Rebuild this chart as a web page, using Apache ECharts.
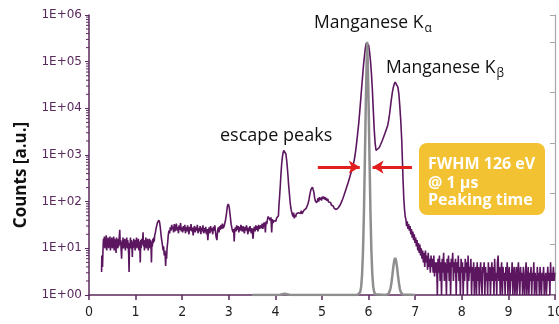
<!DOCTYPE html>
<html>
<head>
<meta charset="utf-8">
<script src="https://cdn.jsdelivr.net/npm/echarts@6/dist/echarts.min.js"></script>
<style>html,body{margin:0;padding:0;background:#fff}#c{width:559px;height:324px}</style>
</head>
<body>
<div id="c"></div>
<script>
// ---- data (energy in keV, counts) ----
const xTickLabels = ['0','1','2','3','4','5','6','7','8','9','10'];
const yTickLabels = ['1E+00','1E+01','1E+02','1E+03','1E+04','1E+05','1E+06'];
const minorTickMultipliers = [2,3,4,5,6,7,8,9];
const decades = [1,10,100,1000,10000,100000];

const lowRegion = [[0.27,3.1],[0.275,7],[0.285,5],[0.29,4],[0.30,9],[0.31,16],[0.32,11],[0.33,18],[0.34,10],[0.35,15],[0.36,12],[0.37,19],[0.38,9],[0.39,14],[0.40,11],[0.41,17],[0.42,10],[0.43,16],[0.44,12],[0.45,18],[0.46,9],[0.47,15],[0.48,11],[0.49,17],[0.50,10],[0.51,14],[0.52,12],[0.53,18],[0.54,9],[0.55,16],[0.56,11],[0.57,15],[0.58,8],[0.59,17],[0.60,12],[0.61,14],[0.62,10],[0.63,16],[0.64,11],[0.65,18],[0.66,25],[0.67,12],[0.68,15],[0.69,9],[0.70,6],[0.71,14],[0.72,11],[0.73,17],[0.74,10],[0.75,15],[0.76,12],[0.77,16],[0.78,9],[0.79,14],[0.80,11],[0.81,17],[0.82,10],[0.83,15],[0.84,12],[0.85,8],[0.86,3.1],[0.87,13],[0.88,11],[0.89,17],[0.90,10],[0.91,15],[0.92,12],[0.93,6.5],[0.94,14],[0.95,10],[0.96,16],[0.97,11],[0.98,15],[0.99,9],[1.00,14],[1.01,12],[1.02,17],[1.03,10],[1.04,15],[1.05,11],[1.06,16],[1.07,9],[1.08,14],[1.09,12],[1.10,5],[1.11,15],[1.12,10],[1.13,16],[1.14,12],[1.15,14],[1.16,22],[1.17,11],[1.18,15],[1.19,9],[1.20,14],[1.21,11],[1.22,17],[1.23,10],[1.24,15],[1.25,12],[1.26,16],[1.27,9],[1.28,14],[1.29,11],[1.30,16],[1.31,10],[1.32,15],[1.33,12],[1.34,5],[1.35,14],[1.36,11],[1.37,16],[1.38,13],[1.39,17],[1.40,14],[1.41,19],[1.425,22],[1.44,27],[1.455,31],[1.47,36],[1.485,39],[1.50,40],[1.515,36],[1.53,28],[1.545,20],[1.56,15],[1.575,12],[1.59,9],[1.60,11],[1.615,7],[1.63,9],[1.645,4.2],[1.655,8],[1.665,6],[1.675,10],[1.69,14],[1.70,19],[1.715,24],[1.73,21],[1.745,28],[1.76,24],[1.775,32],[1.79,26],[1.80,29]];

const midRegion = [[1.815,22],[1.83,33],[1.845,23],[1.86,28],[1.875,34],[1.89,24],[1.905,29],[1.92,21],[1.935,31],[1.95,25],[1.965,35],[1.98,23],[1.995,28],[2.01,22],[2.025,30],[2.04,24],[2.055,32],[2.07,21],[2.085,28],[2.10,23],[2.115,31],[2.13,25],[2.145,20],[2.16,29],[2.175,24],[2.19,33],[2.205,23],[2.22,28],[2.235,19],[2.25,27],[2.265,30],[2.28,22],[2.295,28],[2.31,24],[2.325,32],[2.34,21],[2.355,27],[2.37,23],[2.385,30],[2.40,20],[2.415,28],[2.43,23],[2.445,31],[2.46,21],[2.475,27],[2.49,22],[2.505,29],[2.52,20],[2.535,26],[2.55,15],[2.565,24],[2.58,28],[2.595,21],[2.61,30],[2.625,23],[2.64,27],[2.655,20],[2.67,29],[2.685,24],[2.70,31],[2.715,22],[2.73,17],[2.745,15],[2.76,24],[2.775,28],[2.79,22],[2.805,30],[2.82,25],[2.835,32],[2.85,26],[2.865,34],[2.88,27],[2.90,30],[2.925,38],[2.95,55],[2.97,80],[2.99,89],[3.01,75],[3.03,50],[3.05,33],[3.07,26],[3.09,22],[3.105,26],[3.115,14],[3.125,22],[3.14,28],[3.155,23],[3.17,31],[3.185,25],[3.20,30],[3.215,22],[3.23,29],[3.245,24],[3.26,32],[3.275,26],[3.29,23],[3.305,30],[3.32,25],[3.335,21],[3.35,29],[3.365,24],[3.38,31],[3.395,25],[3.41,20],[3.425,28],[3.44,23],[3.455,30],[3.47,24],[3.485,21],[3.50,27],[3.52,16],[3.535,25],[3.55,29],[3.565,23],[3.58,31],[3.595,25],[3.61,30],[3.625,23],[3.64,32],[3.655,26],[3.67,24],[3.685,31],[3.70,27],[3.715,34],[3.73,26],[3.745,32],[3.76,36],[3.775,30],[3.785,22],[3.80,38],[3.815,33],[3.83,42],[3.845,48],[3.86,52],[3.875,44],[3.89,40],[3.905,46],[3.92,22],[3.935,42],[3.95,35],[3.965,39],[3.98,36],[3.995,42],[4.01,38],[4.025,44],[4.04,40],[4.055,46],[4.065,50]];

const escapeRegion = [[4.075,80],[4.09,130],[4.105,220],[4.12,400],[4.135,650],[4.15,900],[4.165,1120],[4.18,1250],[4.195,1280],[4.21,1220],[4.225,1050],[4.24,800],[4.255,560],[4.27,360],[4.285,220],[4.30,150],[4.315,100],[4.33,75],[4.345,62],[4.36,55],[4.375,48],[4.39,58],[4.405,44],[4.42,52],[4.435,47],[4.45,55],[4.465,60],[4.48,50],[4.495,58],[4.51,53],[4.525,62],[4.54,56],[4.555,64],[4.57,55],[4.585,60],[4.60,58],[4.615,66],[4.63,62],[4.645,70],[4.66,72],[4.675,78],[4.69,85],[4.705,95],[4.72,110],[4.735,135],[4.75,160],[4.765,185],[4.78,200],[4.795,205],[4.81,195],[4.825,160],[4.84,125],[4.855,105],[4.87,100],[4.885,95],[4.90,105],[4.915,118],[4.93,100],[4.945,125],[4.96,110],[4.975,122],[4.99,105],[5.005,128],[5.02,115],[5.035,130],[5.05,112],[5.065,124],[5.08,108],[5.095,120],[5.11,104],[5.125,115],[5.14,98],[5.155,108],[5.17,92],[5.185,96],[5.20,85],[5.215,88],[5.23,78],[5.245,80],[5.26,72],[5.275,70],[5.29,66],[5.305,68],[5.32,65],[5.335,70],[5.35,74]];

const peakRegion = [[5.37,78],[5.39,85],[5.41,94],[5.43,105],[5.45,118],[5.47,135],[5.49,155],[5.51,178],[5.53,205],[5.55,235],[5.57,275],[5.59,320],[5.61,375],[5.63,440],[5.65,520],[5.67,620],[5.69,760],[5.71,1000],[5.73,1400],[5.75,2100],[5.77,3200],[5.79,5000],[5.81,8500],[5.83,15000],[5.85,27000],[5.87,47000],[5.89,82000],[5.91,130000],[5.93,195000],[5.95,250000],[5.965,270000],[5.98,262000],[6.00,225000],[6.02,165000],[6.04,105000],[6.06,58000],[6.08,26000],[6.10,9500],[6.12,3600],[6.14,1800],[6.16,1250],[6.18,1150],[6.20,1250],[6.23,1450],[6.26,1700],[6.29,2000],[6.32,2400],[6.35,2900],[6.38,3500],[6.41,4300],[6.43,5500],[6.45,7500],[6.47,11000],[6.49,16000],[6.51,22000],[6.53,28000],[6.55,33000],[6.57,36500],[6.59,37000],[6.61,34000],[6.63,28000],[6.65,20000],[6.67,11000],[6.69,5500],[6.71,2200],[6.725,800],[6.74,280],[6.755,120],[6.77,70],[6.785,48]];

const tailRegion = [[6.80,42],[6.815,30],[6.83,38],[6.845,26],[6.86,33],[6.875,24],[6.89,30],[6.905,20],[6.92,26],[6.935,17],[6.95,23],[6.965,15],[6.98,20],[6.995,13],[7.01,17],[7.025,11],[7.04,15],[7.055,9],[7.07,13],[7.085,8],[7.10,12],[7.115,7],[7.13,10],[7.145,6],[7.16,9],[7.175,5],[7.19,8],[7.205,4],[7.22,9],[7.235,5],[7.25,7],[7.265,3.5],[7.28,8],[7.295,4],[7.31,6],[7.325,3],[7.34,7],[7.355,4],[7.37,6],[7.385,3],[7.40,7],[7.415,2.5],[7.43,5],[7.445,3],[7.46,5],[7.475,1],[7.49,6],[7.505,3],[7.52,7],[7.535,2],[7.55,5],[7.565,1],[7.58,6],[7.595,3],[7.61,8],[7.625,2],[7.64,5],[7.655,4],[7.67,1],[7.685,6],[7.70,3],[7.715,7],[7.73,2],[7.745,5],[7.76,1],[7.775,6],[7.79,4],[7.805,8],[7.82,2],[7.835,5],[7.85,3],[7.865,6],[7.88,1],[7.895,5],[7.91,3],[7.925,7],[7.94,2],[7.955,4],[7.97,1],[7.985,6],[8.00,3],[8.015,5],[8.03,1],[8.045,4],[8.06,2],[8.075,6],[8.09,3],[8.105,5],[8.12,1],[8.135,7],[8.15,2],[8.165,4],[8.18,3],[8.195,6],[8.21,1],[8.225,4],[8.24,2],[8.255,5],[8.27,1],[8.285,3],[8.30,4],[8.315,1],[8.33,5],[8.345,2],[8.36,4],[8.375,1],[8.39,3],[8.405,5],[8.42,2],[8.435,1],[8.45,4],[8.465,3],[8.48,5],[8.495,1],[8.51,4],[8.525,2],[8.54,3],[8.555,1],[8.57,5],[8.585,2],[8.60,4],[8.615,1],[8.63,3],[8.645,5],[8.66,2],[8.675,4],[8.69,1],[8.705,6],[8.72,2],[8.735,3],[8.75,1],[8.765,5],[8.78,7],[8.795,2],[8.81,4],[8.825,1],[8.84,3],[8.855,5],[8.87,1],[8.885,4],[8.90,2],[8.915,3],[8.93,1],[8.945,4],[8.96,2],[8.975,5],[8.99,1],[9.005,3],[9.02,4],[9.035,1],[9.05,3],[9.065,2],[9.08,5],[9.095,1],[9.11,3],[9.125,4],[9.14,1],[9.155,2],[9.17,4],[9.185,1],[9.20,3],[9.215,5],[9.23,2],[9.245,1],[9.26,4],[9.275,2],[9.29,3],[9.305,1],[9.32,4],[9.335,2],[9.35,1],[9.365,3],[9.38,5],[9.395,1],[9.41,2],[9.425,4],[9.44,1],[9.455,3],[9.47,2],[9.485,4],[9.50,1],[9.515,3],[9.53,2],[9.545,5],[9.56,1],[9.575,3],[9.59,2],[9.605,1],[9.62,4],[9.635,2],[9.65,3],[9.665,1],[9.68,4],[9.695,2],[9.71,1],[9.725,3],[9.74,2],[9.755,4],[9.77,1],[9.785,2],[9.80,3],[9.815,1],[9.83,2],[9.845,4],[9.86,2],[9.875,3],[9.89,1],[9.905,5],[9.92,2],[9.935,3],[9.95,2],[9.965,4],[9.98,2],[9.995,3]];

// reference (grey) peak, linear right axis
const referencePeak = [[3.5,0],[4.05,0],[4.1,0.004],[4.15,0.014],[4.2,0.024],[4.25,0.014],[4.3,0.004],[4.35,0],[5.76,0],[5.78,0.005],[5.80,0.017],[5.82,0.057],[5.84,0.16],[5.86,0.40],[5.88,0.87],[5.90,1.63],[5.92,2.67],[5.94,3.78],[5.96,4.66],[5.97,5.0],[5.98,4.66],[6.00,3.78],[6.02,2.67],[6.04,1.63],[6.06,0.87],[6.08,0.40],[6.10,0.16],[6.12,0.057],[6.14,0.017],[6.16,0.005],[6.18,0],[6.37,0],[6.39,0.003],[6.41,0.008],[6.43,0.024],[6.45,0.059],[6.47,0.127],[6.49,0.24],[6.51,0.39],[6.53,0.55],[6.55,0.68],[6.57,0.73],[6.59,0.68],[6.61,0.55],[6.63,0.39],[6.65,0.24],[6.67,0.127],[6.69,0.059],[6.71,0.024],[6.73,0.008],[6.75,0.003],[6.77,0],[7.0,0]];

const fwhmLevel = 550;
const leftArrow = [4.91, 5.81];
const rightArrow = [6.93, 6.085];

// ---- chart ----
const spectrum = lowRegion.concat(midRegion, escapeRegion, peakRegion, tailRegion);
const minorTicks = [];
decades.forEach(d => minorTickMultipliers.forEach(m => minorTicks.push([0, m * d])));

const axisPurple = '#5a2a5e';
const linePurple = '#5c1660';
const chart = echarts.init(document.getElementById('c'), null, {renderer: 'canvas'});
chart.setOption({
  animation: false,
  grid: {left: 89, right: 4, top: 15, bottom: 29, containLabel: false, outerBoundsMode: 'none'},
  xAxis: {
    type: 'value', min: 0, max: 10, interval: 1,
    axisLine: {show: true, lineStyle: {color: axisPurple, width: 1.5}},
    axisTick: {show: true, length: 5, lineStyle: {color: axisPurple, width: 1.5}},
    splitLine: {show: false},
    axisLabel: {color: '#1e1e1e', fontSize: 14, fontFamily: 'DejaVu Sans Condensed, DejaVu Sans', margin: 10,
      formatter: v => xTickLabels[Math.round(v)]}
  },
  yAxis: [{
    type: 'log', logBase: 10, min: 1, max: 1000000,
    axisLine: {show: true, lineStyle: {color: axisPurple, width: 1.5}},
    axisTick: {show: true, length: 4, lineStyle: {color: axisPurple, width: 1}},
    splitLine: {show: false},
    axisLabel: {color: axisPurple, fontSize: 12, fontFamily: 'DejaVu Sans', margin: 7,
      formatter: v => yTickLabels[Math.round(Math.log10(v))]}
  }, {
    type: 'value', position: 'right', min: 0, max: 5.53, interval: 1,
    axisLine: {show: true, lineStyle: {color: '#a6a6a6', width: 1.2}},
    axisTick: {show: true, inside: true, length: 5, lineStyle: {color: '#a6a6a6'}},
    axisLabel: {show: false}, splitLine: {show: false}
  }],
  series: [{
    type: 'line', data: spectrum, yAxisIndex: 0, showSymbol: false, symbol: 'none',
    lineStyle: {color: linePurple, width: 1.6}, z: 2,
    markLine: {
      silent: true, symbol: ['none', 'arrow'], symbolSize: [10, 11], label: {show: false},
      lineStyle: {color: '#e21f1f', width: 3, type: 'solid'},
      data: [
        [{coord: [leftArrow[0], fwhmLevel]}, {coord: [leftArrow[1], fwhmLevel]}],
        [{coord: [rightArrow[0], fwhmLevel]}, {coord: [rightArrow[1], fwhmLevel]}]
      ]
    }
  }, {
    type: 'line', data: referencePeak, yAxisIndex: 1, showSymbol: false, symbol: 'none',
    lineStyle: {color: '#8e8e8e', width: 2.5}, z: 3
  }, {
    type: 'custom', yAxisIndex: 0, data: minorTicks, clip: false, z: 5, silent: true,
    renderItem: (params, api) => {
      const p = api.coord([api.value(0), api.value(1)]);
      return {type: 'line', shape: {x1: p[0] - 3, y1: p[1], x2: p[0], y2: p[1]},
        style: {stroke: axisPurple, lineWidth: 1}};
    }
  }],
  graphic: [
    {type: 'text', x: 21, y: 175, rotation: Math.PI / 2,
      style: {text: 'Counts [a.u.]', font: 'bold 17px "Open Sans"', fill: '#111', align: 'center', verticalAlign: 'middle'}},
    {type: 'text', x: 314, y: 12.5,
      style: {text: 'Manganese K{sub|α}', font: '17.5px "Open Sans"', fill: '#111', lineHeight: 22, verticalAlign: 'top',
        rich: {sub: {fontSize: 12, fontFamily: 'Open Sans', fill: '#111', verticalAlign: 'top', lineHeight: 12, padding: [10, 0, 0, 1]}}}},
    {type: 'text', x: 386, y: 57.5,
      style: {text: 'Manganese K{sub|β}', font: '17.5px "Open Sans"', fill: '#111', lineHeight: 22, verticalAlign: 'top',
        rich: {sub: {fontSize: 12, fontFamily: 'Open Sans', fill: '#111', verticalAlign: 'top', lineHeight: 12, padding: [10, 0, 0, 1]}}}},
    {type: 'text', x: 220, y: 125,
      style: {text: 'escape peaks', font: '18px "Open Sans"', fill: '#111', lineHeight: 22, verticalAlign: 'top'}},
    {type: 'rect', shape: {x: 419, y: 143, width: 126, height: 72, r: 8}, style: {fill: '#f3c233'}},
    {type: 'text', x: 428, y: 164,
      style: {text: 'FWHM 126 eV', font: 'bold 16px "Open Sans"', fill: '#fff', verticalAlign: 'middle'}},
    {type: 'text', x: 428, y: 183,
      style: {text: '@ 1 µs', font: 'bold 16px "Open Sans"', fill: '#fff', verticalAlign: 'middle'}},
    {type: 'text', x: 428, y: 200.5,
      style: {text: 'Peaking time', font: 'bold 16px "Open Sans"', fill: '#fff', verticalAlign: 'middle'}}
  ]
});
</script>
</body>
</html>
